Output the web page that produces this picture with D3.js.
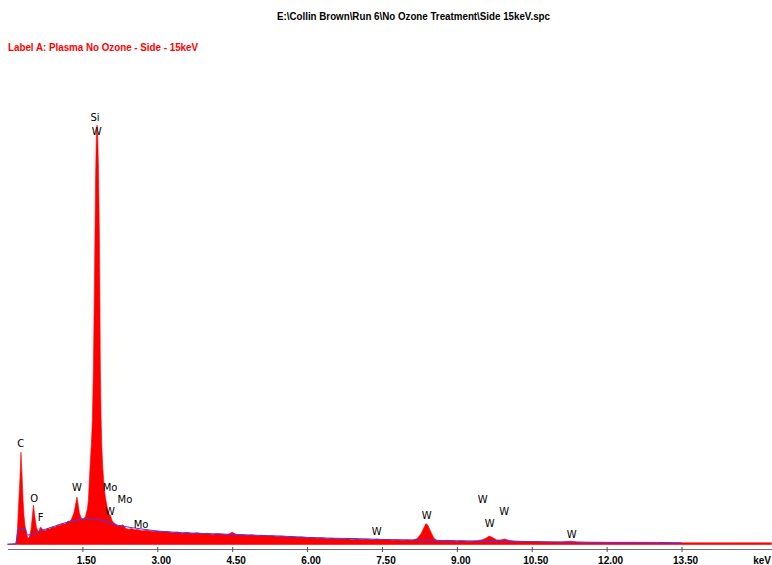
<!DOCTYPE html>
<html>
<head>
<meta charset="utf-8">
<script src="https://cdn.jsdelivr.net/npm/d3@7"></script>
<style>
  body { margin: 0; background: #fff; }
  svg { display: block; }
  text { font-family: "Liberation Sans", Arial, sans-serif; }
</style>
</head>
<body>
<script>
// spectrum counts, [keV, counts]
var spectrum = [
  [0.00, 0], [0.16, 0], [0.18, 10], [0.20, 40], [0.22, 90], [0.25, 160], [0.27, 220],
  [0.29, 170], [0.31, 110], [0.33, 70], [0.35, 45], [0.38, 25], [0.41, 15], [0.44, 18],
  [0.47, 35], [0.50, 70], [0.52, 94], [0.55, 65], [0.58, 40], [0.62, 30], [0.66, 42],
  [0.70, 36], [0.75, 33], [0.80, 38], [0.85, 37], [0.90, 42], [0.95, 41], [1.00, 46],
  [1.05, 45], [1.10, 50], [1.15, 49], [1.20, 55], [1.25, 56], [1.28, 60], [1.33, 75],
  [1.37, 100], [1.39, 113], [1.41, 100], [1.44, 75], [1.48, 62], [1.52, 60], [1.56, 66],
  [1.60, 85], [1.62, 106], [1.65, 178], [1.68, 240], [1.70, 297], [1.72, 420], [1.735, 560],
  [1.75, 720], [1.765, 880], [1.78, 980], [1.795, 1000], [1.81, 960], [1.825, 880], [1.84, 740],
  [1.85, 600], [1.86, 420], [1.875, 300], [1.89, 230], [1.91, 180], [1.94, 130], [1.97, 106],
  [2.00, 88], [2.03, 72], [2.06, 70], [2.09, 58], [2.13, 52], [2.17, 48], [2.21, 44],
  [2.26, 44], [2.30, 47], [2.33, 45], [2.37, 38], [2.42, 36], [2.48, 38], [2.55, 35],
  [2.60, 36], [2.70, 33], [2.80, 34], [2.90, 31], [3.00, 32], [3.10, 30], [3.20, 31],
  [3.30, 28], [3.40, 30], [3.50, 27], [3.60, 29], [3.70, 26], [3.80, 28], [3.90, 25],
  [4.00, 27], [4.10, 24], [4.20, 26], [4.30, 25], [4.40, 23], [4.50, 29], [4.60, 23],
  [4.70, 24], [4.80, 22], [4.90, 23], [5.00, 21], [5.10, 22], [5.20, 20], [5.30, 21],
  [5.40, 19], [5.50, 20], [5.60, 18], [5.70, 19], [5.80, 17], [5.90, 18], [6.00, 16],
  [6.10, 17], [6.20, 15], [6.30, 16], [6.40, 14], [6.50, 15], [6.60, 14], [6.70, 13],
  [6.80, 14], [6.90, 12], [7.00, 13], [7.10, 12], [7.20, 13], [7.30, 11], [7.40, 13],
  [7.50, 11], [7.60, 12], [7.70, 10], [7.80, 11], [7.90, 10], [8.00, 11], [8.10, 10],
  [8.20, 14], [8.28, 25], [8.34, 40], [8.38, 50], [8.42, 46], [8.48, 30], [8.54, 15],
  [8.60, 10], [8.70, 9], [8.80, 10], [8.90, 9], [9.00, 8], [9.10, 9], [9.20, 8],
  [9.30, 8], [9.40, 9], [9.50, 11], [9.58, 15], [9.65, 20], [9.72, 16], [9.80, 11],
  [9.88, 11], [9.96, 13], [10.04, 10], [10.15, 8], [10.30, 7], [10.50, 7], [10.70, 6],
  [10.90, 6], [11.10, 6], [11.28, 8], [11.40, 6], [11.60, 5], [12.00, 5], [12.50, 5],
  [13.00, 4], [13.50, 4], [14.00, 4], [14.50, 4], [15.00, 4], [15.30, 4]
];

// background fit (blue line)
var background = [
  [0.00, 1], [0.17, 2], [0.21, 35], [0.25, 37], [0.36, 37], [0.40, 22], [0.50, 25],
  [0.70, 34], [0.90, 42], [1.10, 50], [1.30, 56], [1.50, 61], [1.62, 63], [1.80, 60],
  [2.00, 54], [2.20, 46], [2.50, 40], [3.00, 32], [3.50, 28], [4.00, 26], [4.50, 24],
  [5.00, 22], [5.50, 20], [6.00, 17], [6.50, 15], [7.00, 14], [7.50, 12], [8.00, 11],
  [8.50, 10], [9.00, 9], [9.50, 8], [10.00, 8], [10.50, 7], [11.00, 6], [12.00, 5],
  [13.00, 5], [13.50, 4]
];

var peakNames = ['C', 'O', 'F', 'Si', 'W', 'W', 'Mo', 'Mo', 'W', 'Mo', 'W', 'W', 'W', 'W', 'W', 'W'];
var peakKeV = [0.265, 0.537, 0.665, 1.752, 1.787, 1.392, 2.053, 2.353, 2.053, 2.674, 7.394, 8.396, 9.52, 9.95, 9.66, 11.30];
var peakLabelCounts = [242, 112, 66, 1018, 986, 138, 138, 108, 81, 49, 31, 70, 108, 80, 52, 24];

var tickValues = [1.5, 3, 4.5, 6, 7.5, 9, 10.5, 12, 13.5];

var title = 'E:\\Collin Brown\\Run 6\\No Ozone Treatment\\Side 15keV.spc';
var labelA = 'Label A: Plasma No Ozone - Side - 15keV';

var width = 772, height = 565;

var x = d3.scaleLinear()
  .domain([0, 15.3])
  .range([7.5, 771.4]);

var y = d3.scaleLinear()
  .domain([0, 1000])
  .range([544.5, 125]);

var svg = d3.select('body').append('svg')
  .attr('width', width)
  .attr('height', height);

svg.append('text')
  .attr('x', 277)
  .attr('y', 20)
  .attr('textLength', 273)
  .attr('lengthAdjust', 'spacingAndGlyphs')
  .style('font-size', '10px')
  .style('font-weight', 'bold')
  .attr('fill', '#000')
  .text(title);

svg.append('text')
  .attr('x', 8)
  .attr('y', 50.5)
  .attr('textLength', 190)
  .attr('lengthAdjust', 'spacingAndGlyphs')
  .style('font-size', '10px')
  .style('font-weight', 'bold')
  .attr('fill', '#ff0000')
  .text(labelA);

var area = d3.area()
  .x(function (d) { return x(d[0]); })
  .y0(y(0))
  .y1(function (d) { return y(d[1]); });

svg.append('path')
  .datum(spectrum)
  .attr('d', area)
  .attr('fill', '#ff0000')
  .attr('stroke', '#ff0000')
  .attr('stroke-width', 0.6);

var line = d3.line()
  .x(function (d) { return x(d[0]); })
  .y(function (d) { return y(d[1]); });

svg.append('path')
  .datum(background)
  .attr('d', line)
  .attr('fill', 'none')
  .attr('stroke', '#3b3bff')
  .attr('stroke-width', 1);

svg.selectAll('.peak')
  .data(peakNames)
  .enter().append('text')
  .attr('class', 'peak')
  .attr('x', function (d, i) { return x(peakKeV[i]); })
  .attr('y', function (d, i) { return y(peakLabelCounts[i]) + 4; })
  .attr('text-anchor', 'middle')
  .style('font-family', '"DejaVu Sans", sans-serif')
  .style('font-size', '10px')
  .attr('fill', '#000')
  .text(function (d) { return d; });

// axis
svg.append('line')
  .attr('x1', 8)
  .attr('x2', 772)
  .attr('y1', 549.5)
  .attr('y2', 549.5)
  .attr('stroke', '#707070');

var xAxis = d3.axisBottom(x)
  .tickValues(tickValues)
  .tickSize(5)
  .tickFormat(d3.format('.2f'));

var gx = svg.append('g')
  .attr('transform', 'translate(0,547)')
  .call(xAxis);

gx.select('.domain').remove();
gx.selectAll('.tick line').attr('stroke', '#505050');
gx.selectAll('.tick text')
  .attr('y', 17)
  .attr('dy', 0)
  .attr('dx', 3.5)
  .attr('fill', '#000')
  .style('font-size', '10px')
  .style('font-weight', 'bold')
  .style('font-family', '"Liberation Sans", Arial, sans-serif');

svg.append('text')
  .attr('x', 771)
  .attr('y', 564)
  .attr('text-anchor', 'end')
  .style('font-size', '10px')
  .style('font-weight', 'bold')
  .attr('fill', '#000')
  .text('keV');
</script>
</body>
</html>
